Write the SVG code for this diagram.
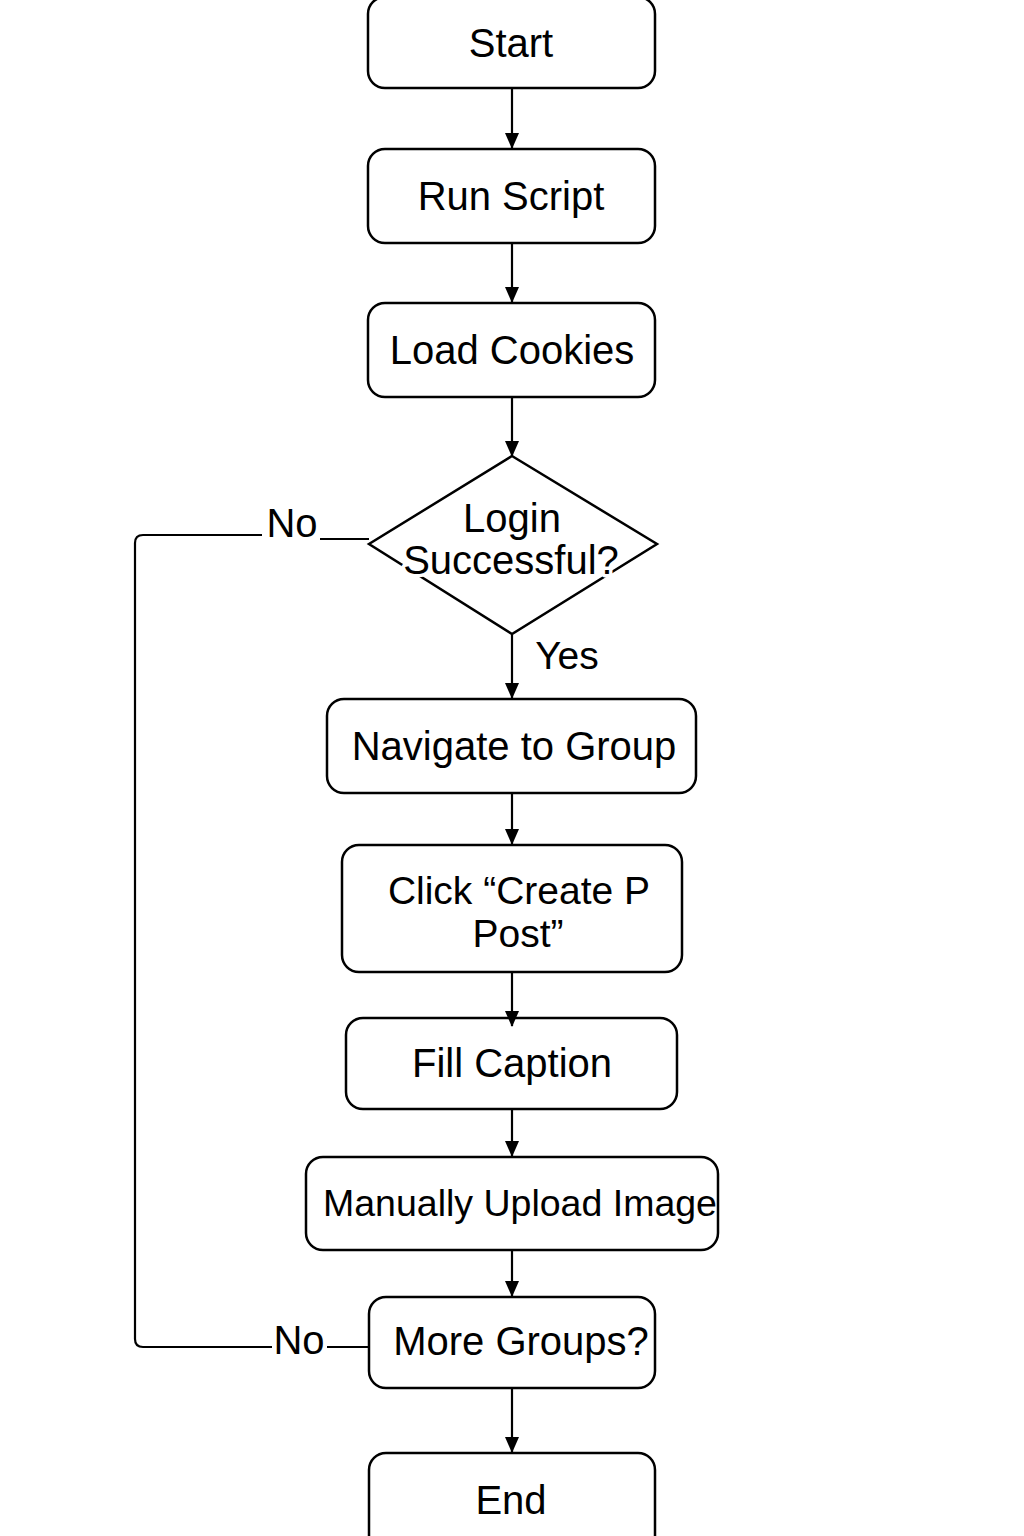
<svg xmlns="http://www.w3.org/2000/svg" width="1024" height="1536" viewBox="0 0 1024 1536">
<defs>
<marker id="arr" viewBox="0 0 16 14" refX="15" refY="7" markerWidth="16" markerHeight="14" markerUnits="userSpaceOnUse" orient="auto">
<path d="M0,0 L16,7 L0,14 z" fill="#000"/>
</marker>
<style>
.box{fill:#fff;stroke:#000;stroke-width:2.5}
.t{font-family:"Liberation Sans",Arial,sans-serif;font-size:40px;fill:#000;text-anchor:middle}
.halo{stroke:#fff;stroke-width:7;paint-order:stroke;stroke-linejoin:round}
.c{fill:none;stroke:#000;stroke-width:2.2}
</style>
</defs>
<rect width="1024" height="1536" fill="#fff"/>
<g id="start"><rect class="box" x="368" y="-3" width="287" height="91" rx="17"/><text class="t" x="511" y="57">Start</text></g>
<g id="run-script"><rect class="box" x="368" y="149" width="287" height="94" rx="17"/><text class="t" x="511" y="210">Run Script</text></g>
<g id="load-cookies"><rect class="box" x="368" y="303" width="287" height="94" rx="17"/><text class="t" x="512" y="364">Load Cookies</text></g>
<g id="login"><polygon class="box" points="512,456 657,544 512,634 369,544"/><text class="t" x="512" y="532">Login</text><text class="t halo" x="511" y="574">Successful?</text></g>
<g id="navigate"><rect class="box" x="327" y="699" width="369" height="94" rx="17"/><text class="t" x="514" y="760">Navigate to Group</text></g>
<g id="click-create"><rect class="box" x="342" y="845" width="340" height="127" rx="17"/><text class="t" x="519" y="904" style="font-size:39px">Click “Create P</text><text class="t" x="518" y="947" style="font-size:39px">Post”</text></g>
<g id="fill-caption"><rect class="box" x="346" y="1018" width="331" height="91" rx="17"/><text class="t" x="512" y="1077">Fill Caption</text></g>
<g id="upload"><rect class="box" x="306" y="1157" width="412" height="93" rx="17"/><text class="t" x="520" y="1216" style="font-size:37.5px">Manually Upload Image</text></g>
<g id="more-groups"><rect class="box" x="369" y="1297" width="286" height="91" rx="17"/><text class="t" x="521" y="1355">More Groups?</text></g>
<g id="end"><rect class="box" x="369" y="1453" width="286" height="100" rx="17"/><text class="t" x="511" y="1514">End</text></g>
<g id="connectors">
<line class="c" x1="512" y1="89" x2="512" y2="148" marker-end="url(#arr)"/>
<line class="c" x1="512" y1="244" x2="512" y2="302" marker-end="url(#arr)"/>
<line class="c" x1="512" y1="398" x2="512" y2="456" marker-end="url(#arr)"/>
<line class="c" x1="512" y1="635" x2="512" y2="698" marker-end="url(#arr)"/>
<line class="c" x1="512" y1="794" x2="512" y2="844" marker-end="url(#arr)"/>
<line class="c" x1="512" y1="973" x2="512" y2="1026" marker-end="url(#arr)"/>
<line class="c" x1="512" y1="1110" x2="512" y2="1156" marker-end="url(#arr)"/>
<line class="c" x1="512" y1="1251" x2="512" y2="1296" marker-end="url(#arr)"/>
<line class="c" x1="512" y1="1389" x2="512" y2="1452" marker-end="url(#arr)"/>
<path class="c" d="M369,539 L320,539"/>
<path class="c" d="M262,535 L143,535 Q135,535 135,543 L135,1339 Q135,1347 143,1347 L272,1347"/>
<path class="c" d="M327,1347 L369,1347"/>
<text class="t" x="292" y="537">No</text>
<text class="t" x="299" y="1354">No</text>
<text class="t" x="567" y="669" style="font-size:39px">Yes</text>
</g>
</svg>
